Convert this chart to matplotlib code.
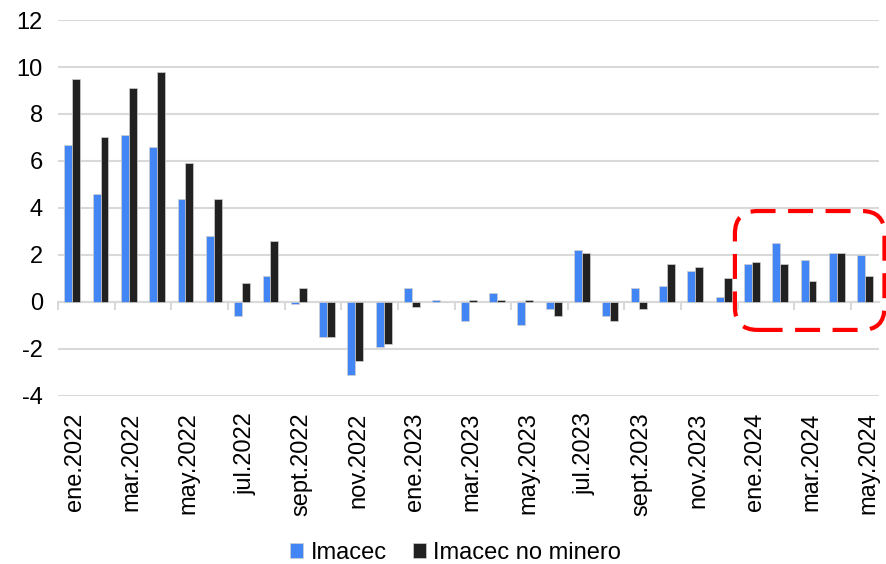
import matplotlib.pyplot as plt
import numpy as np
from matplotlib.patches import FancyBboxPatch
from matplotlib.transforms import ScaledTranslation

plt.rcParams['font.family'] = ['Liberation Sans', 'DejaVu Sans']

meses = ['ene', 'feb', 'mar', 'abr', 'may', 'jun', 'jul', 'ago',
         'sept', 'oct', 'nov', 'dic']
periodos = [m + '.' + str(a) for a in (2022, 2023) for m in meses] + \
           [m + '.2024' for m in meses[:5]]

imacec = [6.7, 4.6, 7.1, 6.6, 4.4, 2.8, -0.6, 1.1, -0.1, -1.5, -3.1, -1.9,
          0.6, 0.1, -0.8, 0.4, -1.0, -0.3, 2.2, -0.6, 0.6, 0.7, 1.3, 0.2,
          1.6, 2.5, 1.8, 2.1, 2.0]
no_minero = [9.5, 7.0, 9.1, 9.8, 5.9, 4.4, 0.8, 2.6, 0.6, -1.5, -2.5, -1.8,
             -0.2, 0.0, 0.1, 0.1, 0.1, -0.6, 2.1, -0.8, -0.3, 1.6, 1.5, 1.0,
             1.7, 1.6, 0.9, 2.1, 1.1]

azul = '#4285f4'
negro = '#212121'

fig = plt.figure(figsize=(8.86, 5.64), dpi=100)
ax = fig.add_axes([0.0655, 0.298, 0.927, 0.6665])

x = np.arange(len(periodos))
w = 0.28
ax.bar(x - w / 2, imacec, w, color=azul, edgecolor='#d0d0d0', linewidth=0.5,
       label='Imacec', zorder=3)
ax.bar(x + w / 2, no_minero, w, color=negro, edgecolor='#d0d0d0', linewidth=0.5,
       label='Imacec no minero', zorder=3)

ax.set_xlim(-0.5, len(periodos) - 0.5)
ax.set_ylim(-4, 12)
ax.set_yticks(range(-4, 13, 2))
ax.set_yticklabels([str(v) for v in range(-4, 13, 2)])
ax.grid(axis='y', color='#d9d9d9', linewidth=1.5, zorder=0)
ax.set_axisbelow(True)
for s in ax.spines.values():
    s.set_visible(False)

ax.set_xticks(x[::2])
ax.set_xticklabels(periodos[::2], rotation=90)
ax.tick_params(axis='x', length=0, pad=12, labelsize=17)
ax.tick_params(axis='y', length=0, pad=11, labelsize=17)
desplazo = ScaledTranslation(3 / 100, 0, fig.dpi_scale_trans)
for lab in ax.get_xticklabels():
    lab.set_transform(lab.get_transform() + desplazo)

# eje de categorias en cero con marcas cada dos meses
eje0 = ax.secondary_xaxis(0, transform=ax.transData)
eje0.set_xticks(np.arange(-0.5, len(periodos), 2))
eje0.set_xticklabels([])
eje0.tick_params(length=6, width=1.5, color='#d9d9d9')
eje0.spines['bottom'].set_color('#d9d9d9')
eje0.spines['bottom'].set_linewidth(1.5)

# recuadro rojo sobre los ultimos meses
x0, x1 = 23.4, 28.68
y0, y1 = -1.19, 3.87
caja = FancyBboxPatch((x0, y0), x1 - x0, y1 - y0,
                      boxstyle='round,pad=0,rounding_size=0.8',
                      mutation_aspect=1.2, fill=False, edgecolor='#ff0000',
                      linewidth=3, linestyle=(0, (6, 3)), clip_on=False, zorder=5)
ax.add_patch(caja)

fig.legend(loc='center', bbox_to_anchor=(0.514, 0.02), ncol=2,
           frameon=False, fontsize=17, handlelength=0.55, handleheight=0.6,
           handletextpad=0.3, columnspacing=1.1)

fig.savefig('out.png', dpi=100)
